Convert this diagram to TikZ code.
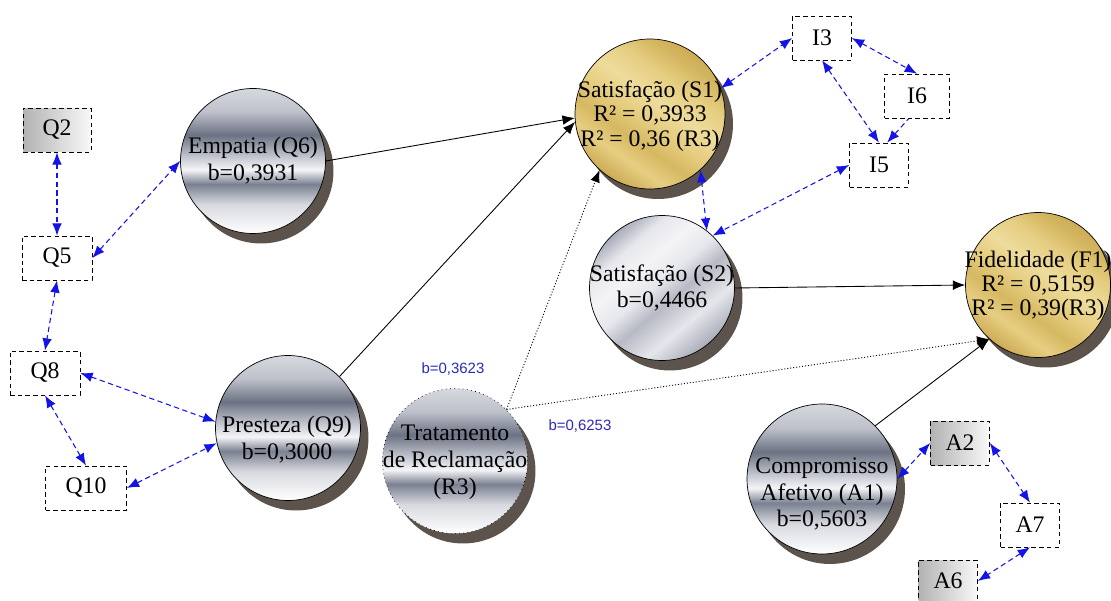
\documentclass[tikz,border=0pt]{standalone}
\usepackage{fontspec}
\setmainfont{Liberation Serif}
\setsansfont{Liberation Sans}
\usetikzlibrary{arrows.meta,shadows}
\definecolor{linkblue}{HTML}{1414E6}
\definecolor{labelblue}{HTML}{2A2AB8}
\definecolor{shadowgray}{HTML}{5C544C}
\definecolor{steelA}{HTML}{D6D8DE}
\definecolor{steelB}{HTML}{6C7283}
\definecolor{steelC}{HTML}{D8DAE0}
\definecolor{steelD}{HTML}{F4F5F7}
\definecolor{steelE}{HTML}{BEC1CB}
\definecolor{steelF}{HTML}{7A8090}
\definecolor{goldA}{HTML}{CDAB55}
\definecolor{goldB}{HTML}{E6CE82}
\definecolor{goldC}{HTML}{D6B862}
\definecolor{goldD}{HTML}{EEDC9C}
\definecolor{silA}{HTML}{A9ADB9}
\definecolor{silB}{HTML}{E6E7EC}
\definecolor{silC}{HTML}{B7BAC4}
\definecolor{silD}{HTML}{F4F4F6}
\pgfdeclareverticalshading{steel}{100bp}{color(0bp)=(white); color(25bp)=(white); color(35bp)=(steelC); color(42bp)=(steelF); color(47bp)=(steelD); color(52bp)=(steelE); color(59bp)=(steelB); color(67bp)=(steelE); color(75bp)=(steelA); color(100bp)=(steelA)}
\pgfdeclareverticalshading{goldband}{100bp}{color(0bp)=(goldA); color(25bp)=(goldA); color(33bp)=(goldB); color(40bp)=(goldC); color(48bp)=(goldB); color(55bp)=(goldD); color(63bp)=(goldB); color(70bp)=(goldC); color(75bp)=(goldA); color(100bp)=(goldA)}
\pgfdeclareverticalshading{silver}{100bp}{color(0bp)=(silA); color(25bp)=(silA); color(35bp)=(silB); color(45bp)=(silC); color(52bp)=(silB); color(60bp)=(silD); color(68bp)=(silB); color(75bp)=(silA); color(100bp)=(silA)}
\newcommand\ctextfont{\fontsize{13.5}{15.3}\selectfont}
\newcommand\rtextfont{\fontsize{13.5}{13.8}\selectfont}
\tikzset{
  construct/.style={circle, draw=black, thin, minimum size=2.9cm, inner sep=0pt,
    shading=steel, drop shadow={shadow xshift=0.16cm, shadow yshift=-0.2cm, fill=shadowgray, opacity=1}},
  endog/.style={construct, shading=goldband, shading angle=-35},
  indicator/.style={rectangle, draw=black, dash pattern=on 2.6pt off 1.8pt,
    minimum width=1.18cm, minimum height=0.88cm, inner sep=0pt, font=\ctextfont},
  fixedind/.style={indicator, left color=gray!60, right color=gray!5},
  ctext/.style={align=center, font=\ctextfont, inner sep=0pt},
  rtext/.style={align=center, font=\rtextfont, inner sep=0pt},
  corr/.style={<->, linkblue, semithick, dash pattern=on 3pt off 2pt},
  effect/.style={->, black, line width=0.5pt},
  weak/.style={effect, dash pattern=on 0.6pt off 1.1pt},
  coef/.style={font=\sffamily\fontsize{8.5}{10}\selectfont, text=labelblue}
}
\begin{document}
\begin{tikzpicture}[x=0.02cm, y=-0.02cm, >={Latex[length=7pt,width=5.5pt]}]
\useasboundingbox (0,0) rectangle (1111,601);
% constructs
\node[construct] (empatia) at (253,161) {};
\node[construct] (presteza) at (288,428) {};
\node[construct, dotted] (r3) at (455,461) {};
\node[endog, minimum size=3cm] (s1) at (650,114) {};
\node[construct, shading=silver, shading angle=40] (s2) at (662,288) {};
\node[endog] (f1) at (1038,285) {};
\node[construct, minimum size=3cm] (a1) at (822,479) {};
\node[ctext] (empatia-t) at (253,161) {Empatia (Q6)\\b=0,3931};
\node[ctext] (presteza-t) at (287,440) {Presteza (Q9)\\b=0,3000};
\node[ctext] (r3-t) at (455,462) {Tratamento\\de Reclamação\\(R3)};
\node[rtext] (s1-t) at (650,116) {Satisfação (S1)\\R² = 0,3933\\R² = 0,36 (R3)};
\node[ctext] (s2-t) at (662,288) {Satisfação (S2)\\b=0,4466};
\node[rtext] (f1-t) at (1038,286) {Fidelidade (F1)\\R² = 0,5159\\R² = 0,39(R3)};
\node[ctext] (a1-t) at (822,494) {Compromisso\\Afetivo (A1)\\b=0,5603};
% indicators
\node[fixedind, minimum width=1.36cm] (q2) at (57,130) {Q2};
\node[indicator, minimum width=1.4cm] (q5) at (57,258) {Q5};
\node[indicator, minimum width=1.4cm] (q8) at (45,373) {Q8};
\node[indicator, minimum width=1.62cm] (q10) at (86,488) {Q10};
\node[indicator] (i3) at (822,38) {I3};
\node[indicator, minimum width=1.3cm] (i6) at (917,96) {I6};
\node[indicator] (i5) at (879,165) {I5};
\node[fixedind] (a2) at (960,443) {A2};
\node[indicator] (a7) at (1030,525) {A7};
\node[fixedind, minimum height=0.84cm] (a6) at (948,581) {A6};
% correlations
\draw[corr] (q2) -- (q5);
\draw[corr] (q5.east) -- (empatia.west);
\draw[corr] (q5.south) -- (q8.north);
\draw[corr] (q8.east) -- (presteza.175);
\draw[corr] (q8.south) -- (q10.north);
\draw[corr] (q10.east) -- (presteza.192);
\draw[corr] (s1.20) -- (i3.west);
\draw[corr] (i3.east) -- (i6.north);
\draw[corr] (i3.south) -- (i5.north);
\draw[corr, <-] (i5.70) -- (i6.250);
\draw[corr] (s1.312) -- (s2.52);
\draw[corr] (i5.west) -- (s2.46);
\draw[corr] (a1.east) -- (a2.west);
\draw[corr] (a2.east) -- (a7.north);
\draw[corr] (a7.south) -- (a6.east);
% structural paths
\draw[effect] (empatia.east) -- (s1.183);
\draw[effect] (presteza.45) -- (s1.186);
\draw[weak] (r3.45) -- (s1.228);
\draw[weak] (r3.45) -- (f1.228);
\draw[effect] (s2.east) -- (f1.west);
\draw[effect] (a1.45) -- (f1.228);
\node[coef] (b-r3s1) at (453,369) {b=0,3623};
\node[coef] (b-r3f1) at (580,426) {b=0,6253};
\end{tikzpicture}
\end{document}
